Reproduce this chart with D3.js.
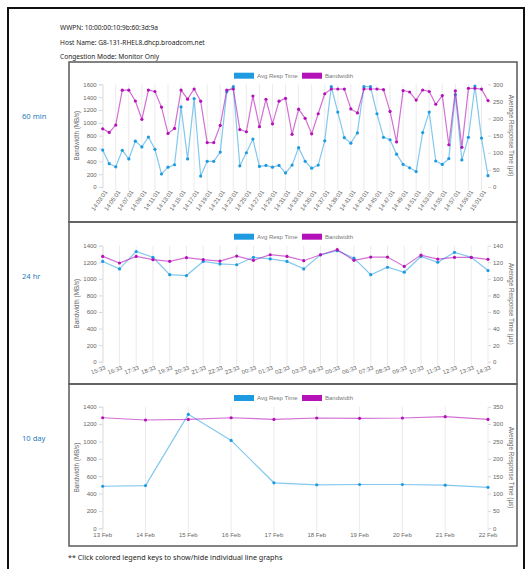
<!DOCTYPE html>
<html>
<head>
  <meta charset="utf-8">
  <script src="https://d3js.org/d3.v7.min.js"></script>
  <style>
    body { margin: 0; background: #fff; }
    svg { display: block; }
  </style>
</head>
<body>
<script>
  "use strict";

  // ---- data ----
  var times60 = ["14:03:01","14:04:01","14:05:01","14:06:01","14:07:01","14:08:01","14:09:01","14:10:01","14:11:01","14:12:01",
                 "14:13:01","14:14:01","14:15:01","14:16:01","14:17:01","14:18:01","14:19:01","14:20:01","14:21:01","14:22:01",
                 "14:23:01","14:24:01","14:25:01","14:26:01","14:27:01","14:28:01","14:29:01","14:30:01","14:31:01","14:32:01",
                 "14:33:01","14:34:01","14:35:01","14:36:01","14:37:01","14:38:01","14:39:01","14:40:01","14:41:01","14:42:01",
                 "14:43:01","14:44:01","14:45:01","14:46:01","14:47:01","14:48:01","14:49:01","14:50:01","14:51:01","14:52:01",
                 "14:53:01","14:54:01","14:55:01","14:56:01","14:57:01","14:58:01","14:59:01","15:00:01","15:01:01","15:02:01"];
  var bw60 = [907, 851, 965, 1508, 1508, 1340, 1055, 1510, 1488, 1245,
              835, 913, 1510, 1368, 1527, 1337, 692, 692, 960, 1510,
              1527, 895, 861, 1417, 940, 1367, 984, 1337, 1381, 820,
              1212, 1070, 828, 1141, 1453, 1527, 1527, 1525, 1216, 1154,
              1527, 1527, 1527, 1517, 1177, 702, 1503, 1480, 1355, 1511,
              1488, 1289, 1425, 658, 1498, 618, 1537, 1537, 1525, 1346];
  var rt60 = [108, 68, 59, 107, 82, 134, 117, 146, 110, 38,
              58, 65, 234, 82, 258, 32, 75, 75, 102, 278,
              293, 62, 100, 140, 60, 63, 58, 63, 41, 64,
              115, 75, 55, 64, 135, 293, 219, 144, 128, 158,
              293, 293, 214, 145, 138, 96, 66, 56, 45, 159,
              219, 76, 66, 83, 270, 79, 145, 295, 143, 33];

  var times24 = ["15:33","16:33","17:33","18:33","19:33","20:33","21:33","22:33","23:33","00:33","01:33","02:33",
                 "03:33","04:33","05:33","06:33","07:33","08:33","09:33","10:33","11:33","12:33","13:33","14:33"];
  var bw24 = [1271, 1191, 1271, 1231, 1211, 1255, 1231, 1215, 1275, 1223, 1291, 1271,
              1219, 1291, 1352, 1223, 1263, 1263, 1150, 1287, 1239, 1259, 1259, 1235];
  var rt24 = [121, 112, 133, 126, 105, 104, 121, 118, 117, 126, 124, 121,
              112, 129, 134, 125, 105, 114, 108, 127, 120, 132, 126, 110];

  var days10 = ["13 Feb","14 Feb","15 Feb","16 Feb","17 Feb","18 Feb","19 Feb","20 Feb","21 Feb","22 Feb"];
  var bw10 = [1273, 1247, 1254, 1273, 1254, 1270, 1266, 1270, 1285, 1254];
  var rt10 = [121, 123, 328, 253, 131, 125, 126, 126, 124, 118];

  var headerLines = ["WWPN: 10:00:00:10:9b:60:3d:9a",
                     "Host Name: G8-131-RHEL8.dhcp.broadcom.net",
                     "Congestion Mode: Monitor Only"];

  var W = 532, H = 569;
  var chartFont = "'Liberation Sans', Arial, sans-serif";
  var pageFont = "'Noto Sans', 'Open Sans', sans-serif";
  var blue = "#1e9be0", blueLine = "rgba(30,155,224,0.55)";
  var purple = "#b411b8", purpleLine = "rgba(180,17,184,0.6)";

  var svg = d3.select("body").append("svg")
      .attr("width", W)
      .attr("height", H);

  // outer frame
  svg.append("rect")
      .attr("x", 8).attr("y", 8)
      .attr("width", 516).attr("height", 600)
      .attr("fill", "none")
      .attr("stroke", "#111")
      .attr("stroke-width", 2);

  svg.selectAll("text.header")
      .data(headerLines)
    .enter().append("text")
      .attr("class", "header")
      .attr("x", 60)
      .attr("y", function(d, i) { return [29.5, 45, 59][i]; })
      .style("font-family", pageFont)
      .style("font-size", "6.6px")
      .style("fill", "#222")
      .text(function(d) { return d; });

  svg.append("text")
      .attr("x", 68).attr("y", 560)
      .style("font-family", pageFont)
      .style("font-size", "7.2px")
      .style("fill", "#222")
      .text("** Click colored legend keys to show/hide individual line graphs");

  var panels = [
    { label: "60 min", top: 62, bottom: 222, cats: times60, bw: bw60, rt: rt60,
      yTop: 84.3, yBot: 187, bwMax: 1600, rtMax: 300, rtStep: 50, legendY: 75.7,
      every: 2, rotate: -55, labelY: 190 },
    { label: "24 hr", top: 222, bottom: 384, cats: times24, bw: bw24, rt: rt24,
      yTop: 245.7, yBot: 361.7, bwMax: 1400, rtMax: 140, rtStep: 20, legendY: 236.7,
      every: 1, rotate: -20, labelY: 366 },
    { label: "10 day", top: 384, bottom: 546, cats: days10, bw: bw10, rt: rt10,
      yTop: 406.7, yBot: 528.3, bwMax: 1400, rtMax: 350, rtStep: 50, legendY: 398,
      every: 1, rotate: 0, labelY: 533 }
  ];

  panels.forEach(drawPanel);

  function drawPanel(p) {
    var g = svg.append("g");

    g.append("rect")
        .attr("x", 69).attr("y", p.top)
        .attr("width", 448).attr("height", p.bottom - p.top)
        .attr("fill", "none")
        .attr("stroke", "#5a5a5a")
        .attr("stroke-width", 1.5);

    svg.append("text")
        .attr("x", 22).attr("y", p.top + 57)
        .style("font-family", pageFont)
        .style("font-size", "7.6px")
        .style("fill", "#2a7db9")
        .text(p.label);

    var x = d3.scalePoint().domain(p.cats).range([102.7, 488]);
    var yL = d3.scaleLinear().domain([0, p.bwMax]).range([p.yBot, p.yTop]);
    var yR = d3.scaleLinear().domain([0, p.rtMax]).range([p.yBot, p.yTop]);

    var shown = p.cats.filter(function(d, i) { return i % p.every === 0; });

    // vertical grid lines
    g.selectAll("line.grid")
        .data(shown)
      .enter().append("line")
        .attr("x1", function(d) { return x(d); })
        .attr("x2", function(d) { return x(d); })
        .attr("y1", p.yTop)
        .attr("y2", p.yBot + 4)
        .attr("stroke", "#e6e6e6")
        .attr("stroke-width", 0.8);

    // left axis
    var left = g.append("g")
        .attr("transform", "translate(102.7,0)")
        .call(d3.axisLeft(yL).tickValues(d3.range(0, p.bwMax + 1, 200))
          .tickFormat(d3.format("d")).tickSize(4).tickPadding(2));
    // right axis
    var right = g.append("g")
        .attr("transform", "translate(488,0)")
        .call(d3.axisRight(yR).tickValues(d3.range(0, p.rtMax + 1, p.rtStep))
          .tickFormat(d3.format("d")).tickSize(3).tickPadding(2));
    [left, right].forEach(function(a) {
      a.select(".domain").attr("stroke", "#e0e0e0").attr("stroke-width", 0.8);
      a.selectAll(".tick line").attr("stroke", "#d8d8d8");
      a.selectAll(".tick text")
          .style("font-family", chartFont)
          .style("font-size", "6px")
          .attr("fill", "#666");
    });
    right.select(".domain").remove();

    // x labels
    g.selectAll("text.xl")
        .data(shown)
      .enter().append("text")
        .attr("class", "xl")
        .attr("transform", function(d) {
          return p.rotate ? "translate(" + (x(d) + 2) + "," + p.labelY + ") rotate(" + p.rotate + ")"
                          : "translate(" + x(d) + "," + p.labelY + ")";
        })
        .attr("dy", p.rotate ? "0.6em" : "0.71em")
        .attr("text-anchor", p.rotate ? "end" : "middle")
        .style("font-family", chartFont)
        .style("font-size", "6px")
        .style("fill", "#666")
        .text(function(d) { return d; });

    var mid = (p.yTop + p.yBot) / 2;
    g.append("text")
        .attr("transform", "translate(79," + mid + ") rotate(-90)")
        .attr("text-anchor", "middle")
        .style("font-family", chartFont)
        .style("font-size", "6.3px")
        .style("fill", "#666")
        .text("Bandwidth (MB/s)");
    g.append("text")
        .attr("transform", "translate(509," + mid + ") rotate(90)")
        .attr("text-anchor", "middle")
        .style("font-family", chartFont)
        .style("font-size", "6.3px")
        .style("fill", "#666")
        .text("Average Response Time (\u00b5s)");

    // series
    var series = [
      { vals: p.rt, y: yR, line: blueLine, dot: blue },
      { vals: p.bw, y: yL, line: purpleLine, dot: purple }
    ];
    series.forEach(function(s) {
      var pts = p.cats.map(function(c, i) { return [x(c), s.y(s.vals[i])]; });
      g.append("path")
          .attr("d", d3.line()(pts))
          .attr("fill", "none")
          .attr("stroke", s.line)
          .attr("stroke-width", 1.2);
      g.selectAll(null)
          .data(pts)
        .enter().append("circle")
          .attr("cx", function(d) { return d[0]; })
          .attr("cy", function(d) { return d[1]; })
          .attr("r", 1.6)
          .attr("fill", s.dot);
    });

    // legend
    var leg = [
      { name: "Avg Resp Time", color: blue, x: 234 },
      { name: "Bandwidth", color: purple, x: 302 }
    ];
    leg.forEach(function(l) {
      g.append("rect")
          .attr("x", l.x).attr("y", p.legendY - 3)
          .attr("width", 20).attr("height", 6)
          .attr("fill", l.color);
      g.append("text")
          .attr("x", l.x + 23).attr("y", p.legendY + 2)
          .style("font-family", chartFont)
          .style("font-size", "6px")
          .style("fill", "#777")
          .text(l.name);
    });
  }
</script>
</body>
</html>
